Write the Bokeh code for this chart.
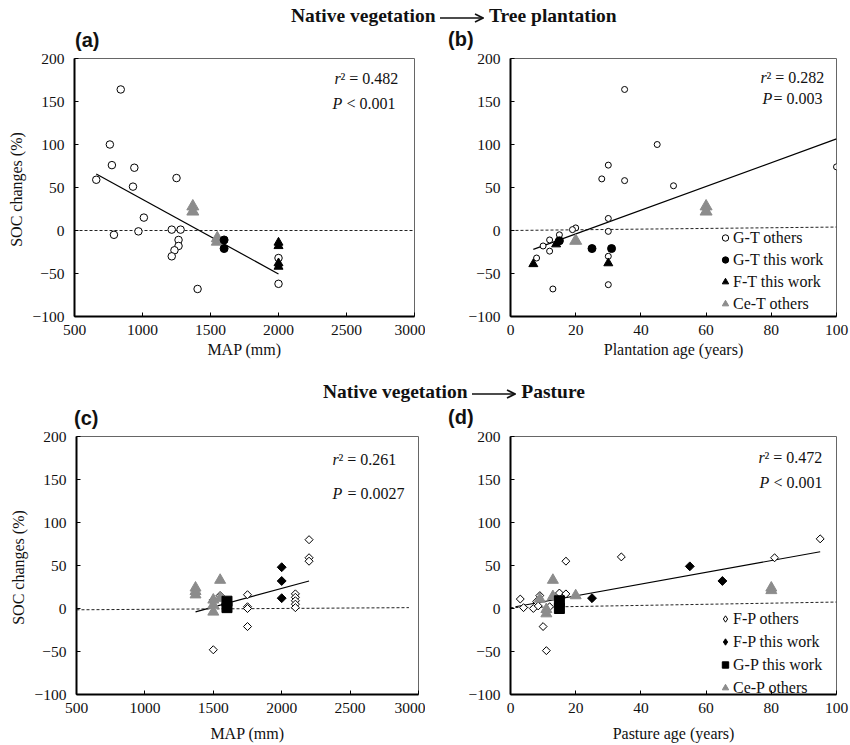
from bokeh.plotting import figure
from bokeh.models import Range1d, FixedTicker, Label, Legend, LegendItem, Div
from bokeh.layouts import column, row
from bokeh.embed import file_html
from bokeh.resources import INLINE

SERIF = "Liberation Serif"
SANS = "Liberation Sans"
GRAY = "#8c8c8c"

# ---------------- data ----------------
y_ticks = [-100, -50, 0, 50, 100, 150, 200]
map_ticks = [500, 1000, 1500, 2000, 2500, 3000]
age_ticks = [0, 20, 40, 60, 80, 100]

# (a) SOC change vs MAP, native vegetation -> tree plantation
a_gt_others_x = [840, 760, 775, 660, 790, 940, 930, 1010, 970, 1250, 1215, 1280, 1265, 1265, 1235, 1215, 1405, 2000, 2000]
a_gt_others_y = [164, 100, 76, 59, -5, 73, 51, 15, -1, 61, 1, 1, -11, -18, -23, -30, -68, -32, -62]
a_gt_this_x = [1600, 1600]
a_gt_this_y = [-11, -21]
a_ft_this_x = [2000, 2000, 2000, 2000]
a_ft_this_y = [-14, -18, -38, -42]
a_cet_x = [1370, 1370, 1550, 1550]
a_cet_y = [28, 22, -9, -13]
a_fit_x = [660, 2000]
a_fit_y = [65.7, -50.5]
a_zero_x = [500, 3000]
a_zero_y = [0, 0]

# (b) SOC change vs plantation age
b_gt_others_x = [35, 45, 30, 28, 35, 50, 100, 30, 30, 20, 19, 15, 12, 10, 12, 8, 13, 30, 30]
b_gt_others_y = [164, 100, 76, 60, 58, 52, 74, 14, -1, 3, 1, -5, -11, -18, -24, -32, -68, -30, -63]
b_gt_this_x = [15, 25, 31]
b_gt_this_y = [-12, -21, -21]
b_ft_this_x = [7, 14, 30]
b_ft_this_y = [-39, -16, -38]
b_cet_x = [20, 60, 60]
b_cet_y = [-12, 28, 22]
b_fit_x = [7, 100]
b_fit_y = [-22, 106.5]
b_zero_x = [0, 100]
b_zero_y = [0, 4]

# (c) SOC change vs MAP, native vegetation -> pasture
c_fp_others_x = [2200, 2200, 2200, 1750, 1750, 1750, 1750, 1500, 2100, 2100, 2100, 2100, 2100, 1500, 1550]
c_fp_others_y = [80, 59, 55, 16, 2, 0, -21, -48, 17, 13, 9, 5, 1, 10, 15]
c_fp_this_x = [2000, 2000, 2000]
c_fp_this_y = [48, 32, 12]
c_gp_this_x = [1600, 1600]
c_gp_this_y = [8.5, 1]
c_cep_x = [1370, 1370, 1370, 1550, 1550, 1500, 1500, 1500]
c_cep_y = [24, 20, 16, 33, 12, 10, 4, -4]
c_fit_x = [1370, 2200]
c_fit_y = [-4, 32]
c_zero_x = [500, 2930]
c_zero_y = [-1.5, 1]

# (d) SOC change vs pasture age
d_fp_others_x = [3, 4, 7, 8, 8.5, 9, 10, 11, 12, 15, 17, 17, 34, 81, 95, 15]
d_fp_others_y = [11, 1, 0, 8, 3, 15, -21, -49, 2, 18, 17, 55, 60, 59, 81, 0]
d_fp_this_x = [25, 55, 65]
d_fp_this_y = [12, 49, 32]
d_gp_this_x = [15, 15]
d_gp_this_y = [9, 0]
d_cep_x = [13, 9, 13, 11, 11, 15, 20, 80, 80]
d_cep_y = [33, 11, 14, -1, -6, 6, 15, 24, 21]
d_fit_x = [1.5, 95]
d_fit_y = [2, 66]
d_zero_x = [0, 100]
d_zero_y = [1, 7.5]

ROT = 0.785398  # square turned into a diamond


def make_fig(xr, xticks, width, height, bl, br, bt, bb, xlabel, ylabel, x_lab_standoff):
    p = figure(width=width, height=height, x_range=Range1d(*xr), y_range=Range1d(-100, 200),
               output_backend="svg", toolbar_location=None, title=None,
               min_border_left=bl, min_border_right=br, min_border_top=bt, min_border_bottom=bb)
    p.xgrid.visible = False
    p.ygrid.visible = False
    p.outline_line_color = "#666666"
    p.outline_line_width = 1
    p.background_fill_color = "white"
    p.border_fill_alpha = 0
    for ax in (p.xaxis[0], p.yaxis[0]):
        ax.axis_line_width = 2
        ax.axis_line_color = "black"
        ax.major_tick_in = 4
        ax.major_tick_out = 0
        ax.major_tick_line_color = "black"
        ax.minor_tick_line_color = None
        ax.major_label_text_font = SERIF
        ax.major_label_text_font_size = "15.5px"
        ax.major_label_text_color = "#111111"
        ax.axis_label_text_font = SERIF
        ax.axis_label_text_font_style = "normal"
        ax.axis_label_text_font_size = "16px"
        ax.axis_label_text_color = "#111111"
    p.xaxis.ticker = FixedTicker(ticks=xticks)
    p.yaxis.ticker = FixedTicker(ticks=y_ticks)
    p.yaxis.major_label_overrides = {-100: "\u2212100", -50: "\u221250"}
    p.xaxis.axis_label = xlabel
    p.xaxis.major_label_standoff = 8
    p.xaxis.axis_label_standoff = x_lab_standoff
    p.yaxis.major_label_standoff = 10
    p.yaxis.axis_label_standoff = 5
    if ylabel:
        p.yaxis.axis_label = ylabel
    return p


def add_texts(p, x0, r_dx, r_dy, r_val, p_dx, p_dy, p_rest, p_rest_dx):
    ytop = 200
    p.add_layout(Label(x=x0, y=ytop, x_offset=r_dx, y_offset=r_dy, text="r",
                       text_font=SERIF, text_font_style="italic", text_font_size="16px",
                       text_baseline="middle", text_align="left", text_color="#111111"))
    p.add_layout(Label(x=x0, y=ytop, x_offset=r_dx + 6, y_offset=r_dy, text="\u00b2 = " + r_val,
                       text_font=SERIF, text_font_size="16px",
                       text_baseline="middle", text_align="left", text_color="#111111"))
    p.add_layout(Label(x=x0, y=ytop, x_offset=p_dx, y_offset=p_dy, text="P",
                       text_font=SERIF, text_font_style="italic", text_font_size="16px",
                       text_baseline="middle", text_align="left", text_color="#111111"))
    p.add_layout(Label(x=x0, y=ytop, x_offset=p_rest_dx, y_offset=p_dy, text=p_rest,
                       text_font=SERIF, text_font_size="16px",
                       text_baseline="middle", text_align="left", text_color="#111111"))


def add_legend(p, items, loc, spacing):
    leg = Legend(items=[LegendItem(label=l, renderers=[r]) for l, r in items], location=loc,
                 label_text_font=SERIF, label_text_font_size="16px", label_text_color="#111111",
                 glyph_width=16, glyph_height=19, label_height=19, label_standoff=0,
                 spacing=spacing, padding=0, margin=0,
                 background_fill_alpha=0, border_line_alpha=0)
    p.add_layout(leg)


# ---------------- panel a ----------------
pa = make_fig((500, 3000), map_ticks, 425, 313, 74, 11, 10, 45, "MAP (mm)", "SOC changes  (%)", 3)
pa.line(a_zero_x, a_zero_y, line_color="#222222", line_width=1, line_dash="3 2")
pa.line(a_fit_x, a_fit_y, line_color="black", line_width=1.2)
pa.scatter(a_gt_others_x, a_gt_others_y, marker="circle", size=7.5, fill_color="white", line_color="black", line_width=1)
pa.scatter(a_cet_x, a_cet_y, marker="triangle", size=12, fill_color=GRAY, line_color=GRAY)
pa.scatter(a_gt_this_x, a_gt_this_y, marker="circle", size=8, fill_color="black", line_color="black")
pa.scatter(a_ft_this_x, a_ft_this_y, marker="triangle", size=9, fill_color="black", line_color="black")
add_texts(pa, 500, 260, -20, "0.482", 258, -45, "< 0.001", 272)

# ---------------- panel b ----------------
pb = make_fig((0, 100), age_ticks, 424, 313, 85, 13, 9, 45, "Plantation age (years)", None, 3)
pb.line(b_zero_x, b_zero_y, line_color="#222222", line_width=1, line_dash="3 2")
pb.line(b_fit_x, b_fit_y, line_color="black", line_width=1.2)
rb1 = pb.scatter(b_gt_others_x, b_gt_others_y, marker="circle", size=6, fill_color="white", line_color="black", line_width=1)
rb4 = pb.scatter(b_cet_x, b_cet_y, marker="triangle", size=12, fill_color=GRAY, line_color=GRAY)
rb2 = pb.scatter(b_gt_this_x, b_gt_this_y, marker="circle", size=8, fill_color="black", line_color="black")
rb3 = pb.scatter(b_ft_this_x, b_ft_this_y, marker="triangle", size=9, fill_color="black", line_color="black")
add_texts(pb, 0, 250, -19, "0.282", 252, -40, "= 0.003", 263)
add_legend(pb, [("G-T others", rb1), ("G-T this work", rb2), ("F-T this work", rb3), ("Ce-T others", rb4)], (207, 3), 3)

# ---------------- panel c ----------------
pc = make_fig((500, 3000), map_ticks, 425, 318, 76, 7, 10, 50, "MAP (mm)", "SOC changes  (%)", 9)
pc.line(c_zero_x, c_zero_y, line_color="#222222", line_width=1, line_dash="3 2")
pc.line(c_fit_x, c_fit_y, line_color="black", line_width=1.2)
pc.scatter(c_fp_others_x, c_fp_others_y, marker="square", angle=ROT, size=5.7, fill_color="white", line_color="black", line_width=1)
pc.scatter(c_cep_x, c_cep_y, marker="triangle", size=11, fill_color=GRAY, line_color=GRAY)
pc.scatter(c_fp_this_x, c_fp_this_y, marker="square", angle=ROT, size=6.3, fill_color="black", line_color="black")
pc.scatter(c_gp_this_x, c_gp_this_y, marker="square", size=10, fill_color="black", line_color="black")
add_texts(pc, 500, 256, -23, "0.261", 256, -57, "= 0.0027", 271)

# ---------------- panel d ----------------
pd_ = make_fig((0, 100), age_ticks, 424, 318, 85, 13, 10, 50, "Pasture age (years)", None, 9)
pd_.line(d_zero_x, d_zero_y, line_color="#222222", line_width=1, line_dash="3 2")
pd_.line(d_fit_x, d_fit_y, line_color="black", line_width=1.2)
# diamond-shaped legend keys (hidden beneath the turned squares that show the points)
kd1 = pd_.scatter(d_fp_others_x, d_fp_others_y, marker="diamond", size=7, fill_color="white", line_color="black", line_width=1)
pd_.scatter(d_fp_others_x, d_fp_others_y, marker="square", angle=ROT, size=5.6, fill_color="white", line_color="black", line_width=1)
rd4 = pd_.scatter(d_cep_x, d_cep_y, marker="triangle", size=11, fill_color=GRAY, line_color=GRAY)
kd2 = pd_.scatter(d_fp_this_x, d_fp_this_y, marker="diamond", size=7, fill_color="black", line_color="black")
pd_.scatter(d_fp_this_x, d_fp_this_y, marker="square", angle=ROT, size=6.3, fill_color="black", line_color="black")
rd3 = pd_.scatter(d_gp_this_x, d_gp_this_y, marker="square", size=10, fill_color="black", line_color="black")
add_texts(pd_, 0, 248, -21, "0.472", 249, -46, "< 0.001", 263)
add_legend(pd_, [("F-P others", kd1), ("F-P this work", kd2), ("G-P this work", rd3), ("Ce-P others", rd4)], (207, -3), 4)

# ---------------- headings and panel letters ----------------
HSTYLE = ("position:absolute;font-family:'Liberation Serif';font-weight:bold;font-size:19.5px;"
          "line-height:20px;white-space:nowrap;color:#111;")
TSTYLE = ("position:absolute;font-family:'Liberation Sans';font-weight:bold;font-size:20px;"
          "line-height:22px;white-space:nowrap;color:#111;")
ARROW = ('<svg width="44" height="10" style="vertical-align:middle;">'
         '<line x1="0" y1="5" x2="42" y2="5" stroke="#111" stroke-width="1.6"/>'
         '<polyline points="35,1 43,5 35,9" fill="none" stroke="#111" stroke-width="1.6"/></svg>')
h1 = Div(text=(f"<div style=\"position:relative;width:849px;height:48px;overflow:visible;\">"
               f"<div style=\"{HSTYLE}left:291px;top:6px;\">Native vegetation {ARROW} Tree plantation</div>"
               f"<div style=\"{TSTYLE}left:75px;top:29px;\">(a)</div>"
               f"<div style=\"{TSTYLE}left:448px;top:28px;\">(b)</div></div>"),
         width=849, height=48, margin=(0, 0, 0, 0))
h2 = Div(text=(f"<div style=\"position:relative;width:849px;height:65px;overflow:visible;\">"
               f"<div style=\"{HSTYLE}left:323px;top:21px;\">Native vegetation {ARROW} Pasture</div>"
               f"<div style=\"{TSTYLE}left:74px;top:46px;\">(c)</div>"
               f"<div style=\"{TSTYLE}left:448px;top:45px;\">(d)</div></div>"),
         width=849, height=65, margin=(0, 0, 0, 0))

layout = column(h1, row(pa, pb, spacing=0), h2, row(pc, pd_, spacing=0), spacing=0)

open("out.html", "w").write(file_html(layout, INLINE))
